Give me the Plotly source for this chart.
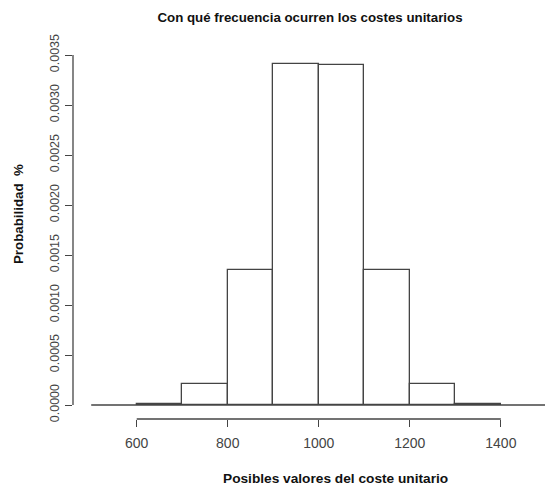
import plotly.graph_objects as go

# ---- data ----
breaks = [600, 700, 800, 900, 1000, 1100, 1200, 1300, 1400]
density = [0.00001, 0.00021, 0.00135, 0.00341, 0.00340, 0.00135, 0.00021, 0.00001]
x_ticks = [600, 800, 1000, 1200, 1400]
y_ticks = [0.0, 0.0005, 0.0010, 0.0015, 0.0020, 0.0025, 0.0030, 0.0035]
baseline_x = [500, 1500]

title = "Con qué frecuencia ocurren los costes unitarios"
xlab = "Posibles valores del coste unitario"
ylab = "Probabilidad\u00a0 %"

mids = [(a + b) / 2 for a, b in zip(breaks[:-1], breaks[1:])]
widths = [b - a for a, b in zip(breaks[:-1], breaks[1:])]

LINE = "#444444"
FONT = "Liberation Sans, Arial, sans-serif"

fig = go.Figure()
fig.add_trace(go.Scatter(x=baseline_x, y=[0, 0], mode="lines",
                         line=dict(color=LINE, width=1.3), hoverinfo="skip",
                         showlegend=False))
fig.add_trace(go.Bar(x=mids, y=density, width=widths,
                     marker=dict(color="white", line=dict(color=LINE, width=1.3)),
                     showlegend=False))

# R-style axis lines spanning only the tick range
fig.add_shape(type="line", xref="x", yref="paper",
              x0=min(x_ticks), x1=max(x_ticks), y0=0, y1=0,
              line=dict(color=LINE, width=1.3))
fig.add_shape(type="line", xref="paper", yref="y",
              x0=0, x1=0, y0=min(y_ticks), y1=max(y_ticks),
              line=dict(color=LINE, width=1.3))

W, H = 545, 488
ml, mr, mt, mb = 73, 0, 41, 69

fig.update_layout(
    width=W, height=H,
    margin=dict(l=ml, r=mr, t=mt, b=mb, autoexpand=False),
    paper_bgcolor="white", plot_bgcolor="white",
    font=dict(family=FONT, color="#333333"),
    bargap=0,
    title=dict(text="<b>" + title + "</b>", x=310 / W, xref="container",
               xanchor="center", y=1 - 17 / H, yref="container", yanchor="middle",
               font=dict(size=13.3, color="#111111", family=FONT)),
    xaxis=dict(range=[460, 1497], showgrid=False, zeroline=False, showline=False,
               tickmode="array", tickvals=x_ticks,
               ticktext=[str(v) for v in x_ticks],
               ticks="outside", ticklen=7, tickwidth=1.3, tickcolor=LINE,
               tickfont=dict(size=14, color="#444444"),
               ticklabelstandoff=4, fixedrange=True),
    yaxis=dict(range=[-0.00014, 0.00364], showgrid=False, zeroline=False, showline=False,
               tickmode="array", tickvals=y_ticks,
               ticktext=["%.4f" % v for v in y_ticks],
               ticks="outside", ticklen=7, tickwidth=1.3, tickcolor=LINE,
               tickangle=-90, tickfont=dict(size=12.5, color="#444444"),
               ticklabelstandoff=1, fixedrange=True),
    annotations=[
        dict(text="<b>" + xlab + "</b>", xref="paper", yref="paper",
             x=(335 - ml) / (W - ml - mr), y=(419 - 478) / (H - mt - mb),
             xanchor="center", yanchor="middle", showarrow=False,
             font=dict(size=13.7, color="#111111", family=FONT)),
        dict(text="<b>" + ylab + "</b>", xref="paper", yref="paper",
             x=(18 - ml) / (W - ml - mr), y=(419 - 214) / (H - mt - mb),
             xanchor="center", yanchor="middle", textangle=-90, showarrow=False,
             font=dict(size=13.3, color="#111111", family=FONT)),
    ],
)

fig.write_html("out.html")
